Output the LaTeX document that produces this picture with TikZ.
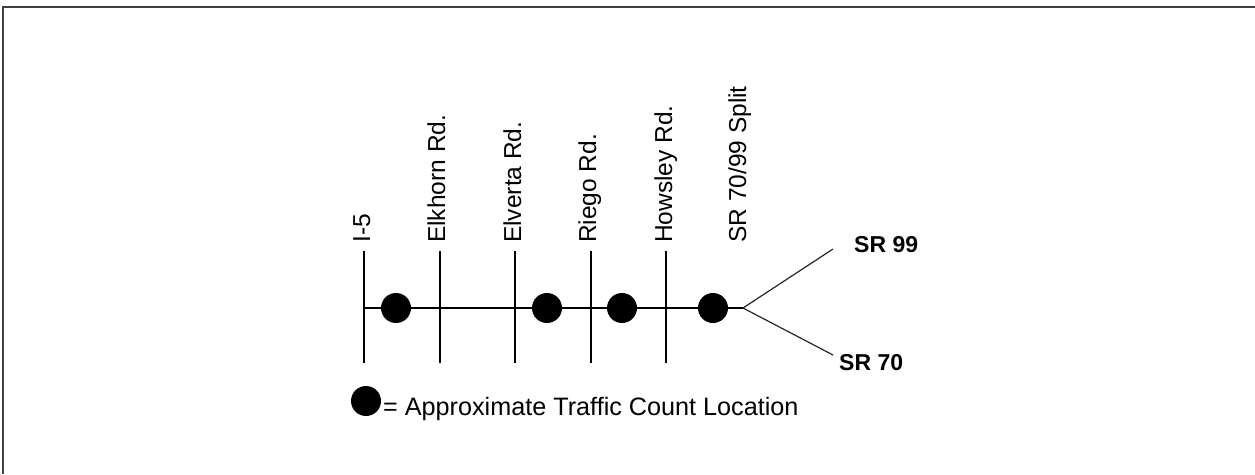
\documentclass[tikz,border=0pt]{standalone}
\usepackage{fontspec}
\setmainfont{Liberation Sans}
\begin{document}
\begin{tikzpicture}[x=1pt,y=-1pt,
  road/.style={line width=1.5pt,black},
  frame/.style={line width=2pt,black!75},
  dot/.style={circle,fill=black,draw=none,minimum size=30pt,inner sep=0pt},
  rlabel/.style={rotate=90,anchor=base west,inner sep=0pt,font=\fontsize{24.5}{27}\selectfont},
  srlabel/.style={anchor=base west,inner sep=0pt,font=\fontsize{23}{26}\selectfont\bfseries},
  legtext/.style={anchor=base west,inner sep=0pt,font=\fontsize{25.2}{28}\selectfont}]
\useasboundingbox (0,0) rectangle (1255,474);
% frame (top and left only)
\coordinate (fa) at (3,474);
\coordinate (fb) at (3,7);
\coordinate (fc) at (1256,7);
\draw[frame] (fa) -- (fb) -- (fc);
% cross roads
\foreach \n/\x in {i5/364,elk/440,elv/515,rie/591,how/666}{
  \coordinate (\n t) at (\x,251);
  \coordinate (\n b) at (\x,363);
  \draw[road] (\n t) -- (\n b);
}
\coordinate (main) at (364,308);
\coordinate (split) at (743,308);
\draw[road] (main) -- (split);
\coordinate (e99) at (833,249);
\coordinate (e70) at (833,355);
\draw[line width=1.2pt,black!85] (split) -- (e99);
\draw[line width=1.2pt,black!85] (split) -- (e70);
% labels
\node[rlabel] (li5) at (370,243) {I-5};
\node[rlabel] (lelk) at (445,243) {Elkhorn Rd.};
\node[rlabel] (lelv) at (521,243) {Elverta Rd.};
\node[rlabel] (lrie) at (596,243) {Riego Rd.};
\node[rlabel] (lhow) at (672,243) {Howsley Rd.};
\node[rlabel] (lspl) at (746,243) {SR 70/99 Split};
\node[srlabel] (l99) at (854,252) {SR 99};
\node[srlabel] (l70) at (839,370) {SR 70};
% count locations
\node[dot] (d1) at (396,308) {};
\node[dot] (d2) at (547,308) {};
\node[dot] (d3) at (622,308) {};
\node[dot] (d4) at (713,308) {};
% legend
\node[dot] (ld) at (366,401) {};
\node[legtext] (lt) at (383,415) {= Approximate Traffic Count Location};
\end{tikzpicture}
\end{document}
